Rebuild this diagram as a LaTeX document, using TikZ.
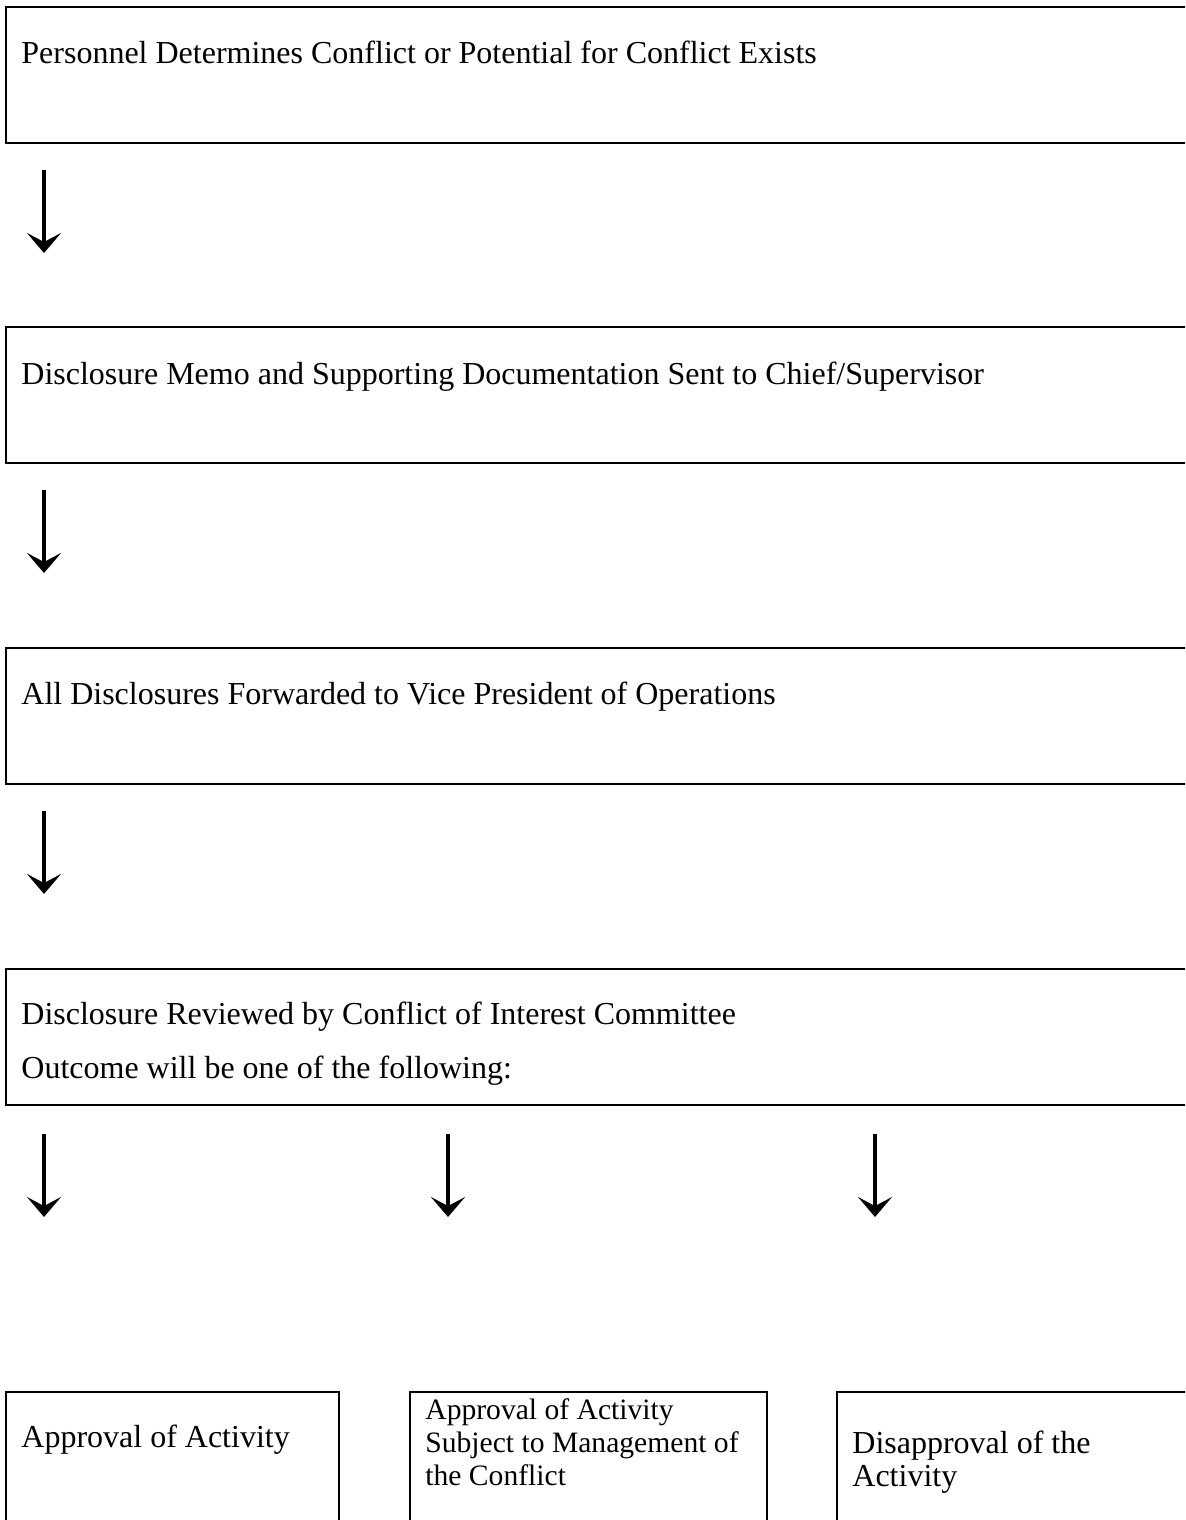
\documentclass[tikz,border=0pt]{standalone}
\usepackage{fontspec}
\setmainfont{Liberation Serif}
\usepackage{tikz}
\usetikzlibrary{arrows.meta, positioning}
\tikzstyle{stage} = [rectangle, draw=black, line width=1pt, inner sep=0pt, outer sep=0pt, minimum width=600pt, minimum height=68pt]
\tikzstyle{outcome} = [stage, minimum height=100pt]
\tikzstyle{caption} = [anchor=base west, inner sep=0pt, align=left, font=\fontsize{16}{16.5}\selectfont]
\tikzstyle{arrow} = [line width=2.2pt, -{Stealth[length=10pt, width=17pt, inset=4.5pt]}]

\begin{document}
\begin{tikzpicture}[x=0.5pt, y=-0.5pt]
    \useasboundingbox (0,0) rectangle (1185,1520);
    \clip (0,0) rectangle (1185,1520);

    % steps, the right edges run off the page
    \node (conflict) [stage, anchor=north west] at (6,7) {};
    \node (memo) [stage, below=92pt of conflict] {};
    \node (forward) [stage, below=92.5pt of memo] {};
    \node (review) [stage, below=92.5pt of forward] {};

    % the three outcomes
    \node (approve) [outcome, minimum width=166.5pt, below=143.5pt of review.south west, anchor=north west] {};
    \node (manage) [outcome, minimum width=178.5pt, right=35.5pt of approve.north east, anchor=north west] {};
    \node (deny) [outcome, minimum width=200pt, right=35pt of manage.north east, anchor=north west] {};

    % base of a text block is its last line
    \node (conflict_txt) [caption] at ([shift={(15,57)}]conflict.north west) {Personnel Determines Conflict or Potential for Conflict Exists};
    \node (memo_txt) [caption] at ([shift={(15,57)}]memo.north west) {Disclosure Memo and Supporting Documentation Sent to Chief/Supervisor};
    \node (forward_txt) [caption] at ([shift={(15,56)}]forward.north west) {All Disclosures Forwarded to Vice President of Operations};
    \node (review_txt) [caption] at ([shift={(15,109)}]review.north west) {Disclosure Reviewed by Conflict of Interest Committee\\[10.5pt]Outcome will be one of the following:};
    \node (approve_txt) [caption] at ([shift={(15,55)}]approve.north west) {Approval of Activity};
    \node (manage_txt) [caption, font=\fontsize{14.8}{16.5}\selectfont] at ([shift={(15,93)}]manage.north west) {Approval of Activity\\Subject to Management of\\the Conflict};
    \node (deny_txt) [caption] at ([shift={(15,94)}]deny.north west) {Disapproval of the\\Activity};

    % arrows stand free below each step
    \coordinate (a1_top) at ([shift={(38,27)}]conflict.south west);
    \coordinate (a1_tip) at ([shift={(38,110)}]conflict.south west);
    \coordinate (a2_top) at ([shift={(38,27)}]memo.south west);
    \coordinate (a2_tip) at ([shift={(38,110)}]memo.south west);
    \coordinate (a3_top) at ([shift={(38,27)}]forward.south west);
    \coordinate (a3_tip) at ([shift={(38,110)}]forward.south west);
    \coordinate (a4_top) at ([shift={(38,29)}]review.south west);
    \coordinate (a4_tip) at ([shift={(38,112)}]review.south west);
    \coordinate (a5_top) at ([shift={(442,29)}]review.south west);
    \coordinate (a5_tip) at ([shift={(442,112)}]review.south west);
    \coordinate (a6_top) at ([shift={(869,29)}]review.south west);
    \coordinate (a6_tip) at ([shift={(869,112)}]review.south west);

    \draw [arrow] (a1_top) -- (a1_tip);
    \draw [arrow] (a2_top) -- (a2_tip);
    \draw [arrow] (a3_top) -- (a3_tip);
    \draw [arrow] (a4_top) -- (a4_tip);
    \draw [arrow] (a5_top) -- (a5_tip);
    \draw [arrow] (a6_top) -- (a6_tip);
\end{tikzpicture}
\end{document}
